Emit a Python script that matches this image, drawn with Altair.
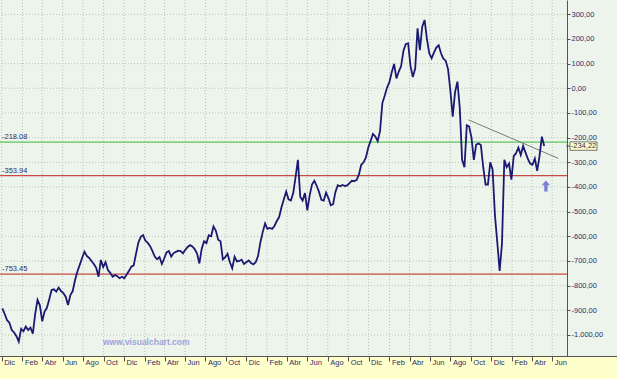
import json
import pandas as pd
import altair as alt

# ---------------- data ----------------
START_DATE = "2004-12-03"   # first weekly close
VALUES = [
    -892, -915, -940, -950, -980, -990, -1005, -1027, -975, -985,
    -966, -980, -970, -995, -915, -858, -880, -945, -905, -890,
    -855, -818, -815, -824, -808, -822, -830, -845, -879, -838,
    -822, -777, -743, -716, -688, -662, -680, -688, -700, -712,
    -728, -764, -696, -725, -705, -737, -748, -764, -757, -762,
    -770, -764, -770, -755, -740, -723, -718, -670, -625, -602,
    -595, -618, -627, -640, -660, -683, -693, -684, -712, -690,
    -665, -660, -682, -668, -663, -658, -660, -669, -655, -643,
    -636, -641, -652, -670, -710, -650, -620, -628, -596, -600,
    -560, -577, -614, -620, -694, -685, -671, -705, -730, -683,
    -702, -700, -695, -712, -705, -698, -708, -714, -705, -680,
    -625, -583, -548, -570, -566, -570, -558, -538, -522, -482,
    -450, -419, -450,
    -455, -425, -360, -290, -440, -455, -425, -495, -435, -390,
    -375, -395, -420, -452, -455, -423, -445, -474, -470, -420,
    -393, -397, -392, -396, -394, -384, -375, -376, -372, -350,
    -310, -300, -280, -240, -213, -185, -195, -214, -174, -60,
    -30, 3, 25, 65, 99, 40, 68, 90, 152, 180,
    182, 90, 46, 80, 243, 155, 250, 277, 200,
    142, 122, 145, 165, 175, 142, 120, 112, 78, -10,
    -115, -15, 27, -80, -290, -320, -150, -155, -200, -290,
    -228, -224, -230, -320, -390, -390, -300, -330, -515, -625,
    -740, -630, -290, -320, -305, -370, -275, -263, -240, -270,
    -234, -260, -285, -305, -310, -285, -335, -275, -196, -234.22,
]
LAST_VALUE = -234.22
LAST_LABEL = "-234,22"

LEVELS = [-218.08, -353.94, -753.45]
LEVEL_LABELS = ["-218.08", "-353.94", "-753.45"]
LEVEL_COLORS = ["#5cc65c", "#c94a44", "#c94a44"]

TREND_DATES = ["2008-09-24", "2009-06-19"]
TREND_VALUES = [-128, -284]

ARROW_DATE = "2009-05-13"
ARROW_VALUE = -396

MONTHS_ES = ["Ene", "Feb", "Mar", "Abr", "May", "Jun",
             "Jul", "Ago", "Sep", "Oct", "Nov", "Dic"]
Y_TICKS = list(range(300, -1001, -100))
X_TICK_MONTHS = [(2004, 12)] + [(y, m) for y in range(2005, 2010)
                                for m in (2, 4, 6, 8, 10, 12)
                                if (y, m) <= (2009, 6)]

# ---------------- tables ----------------
dates = pd.date_range(START_DATE, periods=len(VALUES), freq="7D")
line_df = pd.DataFrame({"date": dates.strftime("%Y-%m-%dT00:00:00"), "value": VALUES})
vgrid_df = pd.DataFrame({"date": [f"{y:04d}-{m:02d}-01T00:00:00" for y, m in X_TICK_MONTHS]})
hgrid_df = pd.DataFrame({"value": Y_TICKS})
levels_df = pd.DataFrame({"value": LEVELS, "label": LEVEL_LABELS, "color": LEVEL_COLORS})
trend_df = pd.DataFrame({"date": [d + "T00:00:00" for d in TREND_DATES], "value": TREND_VALUES})
arrow_df = pd.DataFrame({"date": [ARROW_DATE + "T00:00:00"], "value": [ARROW_VALUE]})
last_df = pd.DataFrame({"value": [LAST_VALUE], "label": [LAST_LABEL]})
box_df = pd.DataFrame({"value": [LAST_VALUE + 17], "bot": [LAST_VALUE - 17]})
one_df = pd.DataFrame({"a": [0]})

FONT = "Liberation Sans Narrow, Liberation Sans, Arial"
LABEL_COLOR = "#2d2d6a"
GRID_COLOR = "#b8c3b8"

xscale = alt.Scale(domain=[alt.DateTime(year=2004, month=11, date=26),
                           alt.DateTime(year=2009, month=7, date=15)])
yscale = alt.Scale(domain=[-1085.3, 358.0], nice=False, zero=False)

xaxis = alt.Axis(
    values=[alt.DateTime(year=y, month=m, date=1) for y, m in X_TICK_MONTHS],
    labelExpr=json.dumps(MONTHS_ES) + "[month(datum.value)]",
    title=None, grid=False, domain=False, tickSize=5, tickColor="#555555",
    labelAlign="left", labelBaseline="top", labelPadding=-3, labelOffset=2,
    labelFontSize=7.5, labelFont=FONT, labelColor=LABEL_COLOR,
    labelOverlap=False, labelFlush=False, labelBound=False, zindex=1,
)
yaxis = alt.Axis(
    orient="right", values=Y_TICKS,
    labelExpr="replace(replace(replace(replace(format(datum.value, ',.2f'), ',', 'X'), '.', ','), 'X', '.'), '\u2212', '-')",
    title=None, grid=False, domain=True, domainColor="#555555", tickSize=3,
    tickColor="#555555", labelPadding=1, labelFontSize=7.5, labelFont=FONT,
    labelColor=LABEL_COLOR, labelOverlap=False, labelFlush=False,
    labelBound=False, zindex=1,
)
X = alt.X("date:T", scale=xscale, axis=xaxis)
Y = alt.Y("value:Q", scale=yscale, axis=yaxis)

vgrid = alt.Chart(vgrid_df).mark_rule(color=GRID_COLOR, strokeDash=[1, 2], strokeWidth=1).encode(x=X)
hgrid = alt.Chart(hgrid_df).mark_rule(color=GRID_COLOR, strokeDash=[1, 2], strokeWidth=1).encode(y=Y)
levels = alt.Chart(levels_df).mark_rule(strokeWidth=1.1).encode(
    y=Y, color=alt.Color("color:N", scale=None))
level_text = alt.Chart(levels_df).mark_text(
    align="left", baseline="alphabetic", dy=-3, fontSize=7.5, font=FONT, color=LABEL_COLOR
).encode(x=alt.value(2), y=Y, text="label:N")
trend = alt.Chart(trend_df).mark_line(color="#6f7f72", strokeWidth=1).encode(x=X, y=Y)
line = alt.Chart(line_df).mark_line(color="#1a1a72", strokeWidth=1.8).encode(x=X, y=Y)
arrow = alt.Chart(arrow_df).mark_point(
    shape="M0,-1L0.75,-0.15L0.3,-0.15L0.3,1L-0.3,1L-0.3,-0.15L-0.75,-0.15Z",
    filled=True, size=120, color="#7a7ed8", opacity=1
).encode(x=X, y=Y)
watermark = alt.Chart(one_df).mark_text(
    text="www.visualchart.com", align="left", baseline="alphabetic", fontSize=8.5,
    fontWeight="bold", color="#9ea2dc", font="Liberation Sans"
).encode(x=alt.value(103), y=alt.value(345))
yellow = alt.Chart(one_df).mark_rect(fill="#ffffcc").encode(
    x=alt.value(-1), x2=alt.value(620), y=alt.value(356.5), y2=alt.value(382))
bottom_border = alt.Chart(one_df).mark_rule(color="#555555", strokeWidth=1).encode(
    x=alt.value(0), x2=alt.value(617), y=alt.value(356.5))
last_tick = alt.Chart(last_df).mark_rule(color="#555555").encode(
    x=alt.value(566), x2=alt.value(570), y=Y)
last_box = alt.Chart(box_df).mark_rect(fill="#ffffc4", stroke="#555555", strokeWidth=0.8).encode(
    x=alt.value(570), x2=alt.value(597), y=Y, y2="bot:Q")
last_text = alt.Chart(last_df).mark_text(
    align="center", baseline="middle", fontSize=7.5, font=FONT, color=LABEL_COLOR
).encode(x=alt.value(583.5), y=Y, text="label:N")

chart = alt.layer(
    vgrid, hgrid, levels, level_text, trend, line, arrow, watermark,
    yellow, bottom_border, last_tick, last_box, last_text
).properties(
    width=567, height=356,
    padding={"left": 0, "top": 0, "right": 50, "bottom": 23},
    autosize="none", background="#edf4ec",
).configure_view(strokeWidth=0)

chart.save("out.html", embed_options={"renderer": "svg", "actions": False})
